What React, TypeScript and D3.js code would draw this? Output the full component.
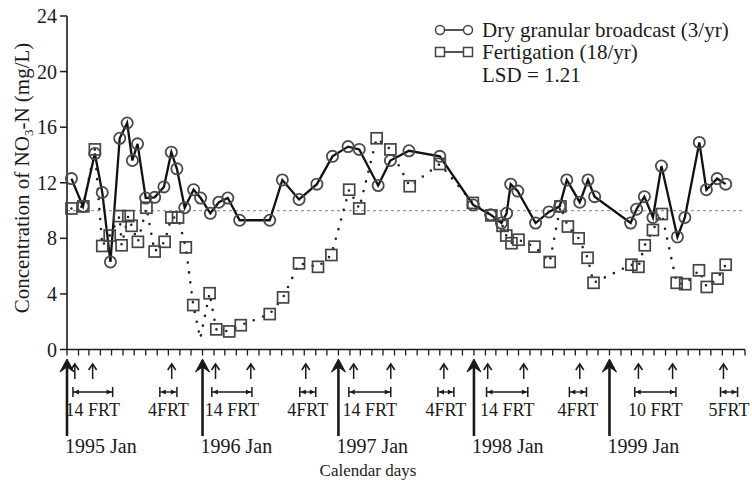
import React from "react";
import * as d3 from "d3";

// ---------- data ----------
const dryDates = [
  "1995-01-13","1995-02-13","1995-03-17","1995-04-06","1995-04-28","1995-05-23","1995-06-12","1995-06-26",
  "1995-07-10","1995-08-01","1995-08-25","1995-09-19","1995-10-09","1995-10-24","1995-11-14","1995-12-08",
  "1995-12-27","1996-01-22","1996-02-14","1996-03-09","1996-04-10","1996-06-30","1996-08-03","1996-09-17",
  "1996-11-04","1996-12-16","1997-01-27","1997-02-26","1997-04-18","1997-05-21","1997-07-10","1997-10-01",
  "1997-12-30","1998-02-15","1998-03-16","1998-03-30","1998-04-10","1998-04-29","1998-06-16","1998-07-22",
  "1998-08-20","1998-09-08","1998-10-13","1998-11-04","1998-11-22","1999-02-27","1999-03-15","1999-04-05",
  "1999-04-28","1999-05-21","1999-07-03","1999-07-23","1999-08-31","1999-09-19","1999-10-18","1999-11-10",
];
const dryValues = [
  12.3, 10.3, 14.1, 11.3, 6.3, 15.2, 16.3, 13.6,
  14.8, 10.9, 10.95, 11.7, 14.2, 13.0, 10.2, 11.5,
  10.9, 9.8, 10.6, 10.9, 9.3, 9.3, 12.2, 10.8,
  11.9, 13.9, 14.6, 14.4, 11.8, 13.6, 14.3, 13.9,
  10.4, 9.7, 9.1, 9.8, 11.9, 11.4, 9.1, 9.9,
  10.3, 12.2, 10.6, 12.2, 11.0, 9.1, 10.1, 11.0,
  9.5, 13.2, 8.1, 9.5, 14.9, 11.5, 12.3, 11.9,
];

const fertDates = [
  "1995-01-13","1995-02-14","1995-03-17","1995-04-06","1995-04-26","1995-05-23","1995-05-28","1995-06-15",
  "1995-06-24","1995-07-11","1995-08-03","1995-08-25","1995-09-21","1995-10-09","1995-10-27","1995-11-17",
  "1995-12-07","1995-12-26","1996-01-20","1996-02-07","1996-03-13","1996-04-13","1996-06-30","1996-08-05",
  "1996-09-17","1996-11-07","1996-12-13","1997-01-30","1997-02-26","1997-04-14","1997-05-21","1997-07-12",
  "1997-10-01","1997-12-29","1998-02-17","1998-03-19","1998-03-29","1998-04-12","1998-05-01","1998-06-13",
  "1998-07-24","1998-08-22","1998-09-11","1998-10-10","1998-11-03","1998-11-19","1999-03-01","1999-03-20",
  "1999-04-06","1999-04-28","1999-05-22","1999-07-01","1999-07-24","1999-08-30","1999-09-20","1999-10-19",
  "1999-11-10",
];
const fertValues = [
  10.15, 10.3, 14.4, 7.45, 8.2, 9.6, 7.5, 9.6,
  8.9, 7.75, 10.2, 7.05, 7.75, 9.5, 9.5, 7.35,
  3.2, 0.8, 4.05, 1.45, 1.3, 1.75, 2.55, 3.75,
  6.2, 5.95, 6.8, 11.5, 10.15, 15.2, 14.4, 11.75,
  13.35, 10.55, 9.65, 8.9, 8.2, 7.65, 7.9, 7.4,
  6.3, 10.3, 8.85, 8.0, 6.6, 4.8, 6.1, 5.95,
  7.5, 8.6, 9.75, 4.8, 4.7, 5.7, 4.5, 5.1,
  6.1,
];
// sample on the dotted line drawn without a square marker
const fertUnmarkedDates = ["1995-12-26"];

const yTicks = [0, 4, 8, 12, 16, 20, 24];
const lsdLine = 10;

const yearArrowDates = ["1995-01-01", "1996-01-01", "1997-01-01", "1998-01-01", "1999-01-01"];
const yearLabels = ["1995 Jan", "1996 Jan", "1997 Jan", "1998 Jan", "1999 Jan"];

const fertArrowDates = [
  "1995-01-22","1995-03-11","1995-10-10","1996-02-05","1996-05-10","1996-10-05","1997-02-11","1997-05-22",
  "1997-10-12","1998-02-07","1998-05-15","1998-10-13","1999-03-20","1999-06-20","1999-11-04",
];

const periodStarts = ["1995-01-17","1995-09-08","1996-01-26","1996-09-19","1997-01-29","1997-09-26","1998-02-04","1998-09-15","1999-03-10","1999-10-27"];
const periodEnds = ["1995-05-04","1995-10-24","1996-05-13","1996-11-01","1997-05-22","1997-11-08","1998-05-26","1998-10-31","1999-06-29","1999-12-12"];
const periodLabels = ["14 FRT","4FRT","14 FRT","4FRT","14 FRT","4FRT","14 FRT","4FRT","10 FRT","5FRT"];

const legendLabels = ["Dry granular broadcast (3/yr)", "Fertigation (18/yr)", "LSD = 1.21"];

// ---------- chart ----------
const W = 752;
const H = 482;
const FONT = "'Liberation Serif', 'Times New Roman', Times, serif";
const parse = d3.timeParse("%Y-%m-%d");

export default function App() {
  const x = d3.scaleTime()
    .domain([new Date(1995, 0, 1), new Date(2000, 0, 1)])
    .range([67, 745]);
  const y = d3.scaleLinear().domain([0, 24]).range([349.5, 16]);

  const dry = dryDates.map((d, i) => ({ t: parse(d)!, v: dryValues[i] }));
  const fert = fertDates.map((d, i) => ({ t: parse(d)!, v: fertValues[i], mark: !fertUnmarkedDates.includes(d) }));

  const line = d3.line<{ t: Date; v: number }>().x((d) => x(d.t)).y((d) => y(d.v));
  const months = d3.timeMonth.range(new Date(1995, 0, 1), new Date(2000, 0, 2));

  const axisY = y(0);
  const ink = "#1a1a1a";

  return (
    <svg width={W} height={H} style={{ position: "absolute", left: 0, top: 0, background: "#fff" }} fontFamily={FONT}>
      <rect width={W} height={H} fill="#fff" />

      {/* LSD reference line */}
      <line x1={x.range()[0]} x2={x.range()[1]} y1={y(lsdLine)} y2={y(lsdLine)} stroke="#9a9a9a" strokeWidth={1.3} strokeDasharray="3 3" />

      {/* axes */}
      <line x1={67} x2={67} y1={y(24)} y2={axisY} stroke={ink} strokeWidth={1.6} />
      <line x1={67} x2={x.range()[1]} y1={axisY} y2={axisY} stroke={ink} strokeWidth={1.6} />
      {yTicks.map((t) => (
        <g key={t}>
          <line x1={60} x2={67} y1={y(t)} y2={y(t)} stroke={ink} strokeWidth={1.5} />
          <text x={57} y={y(t) + 7} textAnchor="end" fontSize={20} fill={ink}>{t}</text>
        </g>
      ))}
      {months.map((m, i) => (
        <line key={i} x1={x(m)} x2={x(m)} y1={axisY} y2={axisY + 6} stroke={ink} strokeWidth={1.3} />
      ))}

      {/* y title */}
      <text transform={`translate(29,178) rotate(-90)`} textAnchor="middle" fontSize={21} fill={ink}>
        Concentration of NO<tspan fontSize={13} dy={4}>3</tspan><tspan dy={-4}>-N (mg/L)</tspan>
      </text>

      {/* series */}
      <path d={line(fert) || ""} fill="none" stroke="#222" strokeWidth={2.6} strokeLinecap="round" strokeDasharray="0 10" />
      <path d={line(dry) || ""} fill="none" stroke="#111" strokeWidth={2.3} />
      {fert.filter((d) => d.mark).map((d, i) => (
        <rect key={i} x={x(d.t) - 5.5} y={y(d.v) - 5.5} width={11} height={11} fill="none" stroke="#444" strokeWidth={1.7} />
      ))}
      {dry.map((d, i) => (
        <circle key={i} cx={x(d.t)} cy={y(d.v)} r={5.6} fill="none" stroke="#4a4a4a" strokeWidth={1.8} />
      ))}

      {/* annual broadcast arrows */}
      {yearArrowDates.map((d, i) => {
        const px = x(parse(d)!);
        return (
          <g key={d}>
            <line x1={px} x2={px} y1={364} y2={436} stroke={ink} strokeWidth={2.6} />
            <path d={`M${px},359 L${px - 7},372 L${px},367 L${px + 7},372 Z`} fill={ink} stroke={ink} strokeWidth={1} strokeLinejoin="round" />
            <text x={px - 2} y={453} fontSize={20} fill={ink}>{yearLabels[i]}</text>
          </g>
        );
      })}

      {/* fertigation arrows */}
      {fertArrowDates.map((d) => {
        const px = x(parse(d)!);
        return (
          <g key={d}>
            <line x1={px} x2={px} y1={365} y2={379} stroke={ink} strokeWidth={1.5} />
            <path d={`M${px - 4},370 L${px},364 L${px + 4},370`} fill="none" stroke={ink} strokeWidth={1.6} />
          </g>
        );
      })}

      {/* fertigation periods */}
      {periodStarts.map((s, i) => {
        const a = x(parse(s)!);
        const b = x(parse(periodEnds[i])!);
        const yy = 392;
        return (
          <g key={s}>
            <line x1={a} x2={b} y1={yy} y2={yy} stroke={ink} strokeWidth={1.3} />
            <line x1={a} x2={a} y1={yy - 5} y2={yy + 5} stroke={ink} strokeWidth={1.5} />
            <line x1={b} x2={b} y1={yy - 5} y2={yy + 5} stroke={ink} strokeWidth={1.5} />
            <path d={`M${a + 1},${yy} L${a + 6},${yy - 2.5} L${a + 6},${yy + 2.5} Z`} fill={ink} />
            <path d={`M${b - 1},${yy} L${b - 6},${yy - 2.5} L${b - 6},${yy + 2.5} Z`} fill={ink} />
            <text x={(a + b) / 2} y={416} textAnchor="middle" fontSize={18} fill={ink}>{periodLabels[i]}</text>
          </g>
        );
      })}

      <text x={368} y={476} textAnchor="middle" fontSize={17} fill={ink}>Calendar days</text>

      {/* legend */}
      <g>
        <line x1={440} x2={468} y1={30} y2={30} stroke={ink} strokeWidth={1.5} />
        <circle cx={440} cy={30} r={4.5} fill="#fff" stroke="#444" strokeWidth={1.5} />
        <circle cx={468} cy={30} r={4.5} fill="#fff" stroke="#444" strokeWidth={1.5} />
        <text x={482} y={37} fontSize={21} fill={ink}>{legendLabels[0]}</text>
        <line x1={440} x2={468} y1={52} y2={52} stroke={ink} strokeWidth={1.5} />
        <rect x={435.5} y={47.5} width={9} height={9} fill="#fff" stroke="#444" strokeWidth={1.5} />
        <rect x={463.5} y={47.5} width={9} height={9} fill="#fff" stroke="#444" strokeWidth={1.5} />
        <text x={482} y={59} fontSize={21} fill={ink}>{legendLabels[1]}</text>
        <text x={482} y={82} fontSize={21} fill={ink}>{legendLabels[2]}</text>
      </g>
    </svg>
  );
}
